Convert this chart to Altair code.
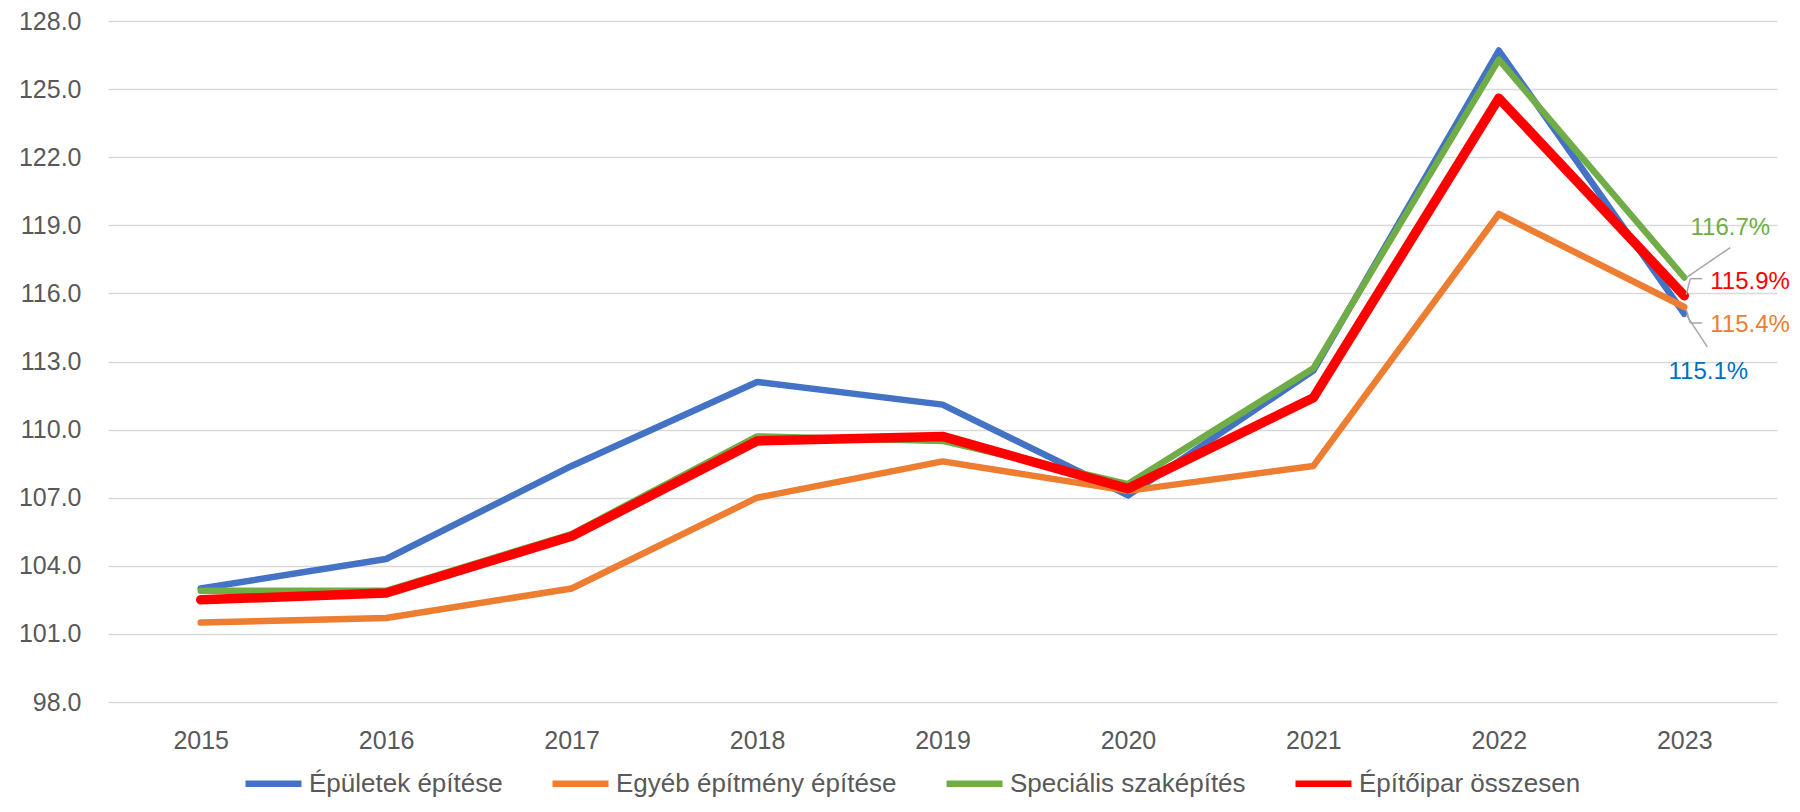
import altair as alt
import pandas as pd

years = [2015, 2016, 2017, 2018, 2019, 2020, 2021, 2022, 2023]
series_names = ["Épületek építése", "Egyéb építmény építése", "Speciális szaképítés", "Építőipar összesen"]
epuletek = [103.0, 104.3, 108.4, 112.1, 111.1, 107.1, 112.6, 126.7, 115.1]
egyeb = [101.5, 101.7, 103.0, 107.0, 108.6, 107.3, 108.4, 119.5, 115.4]
specialis = [102.9, 102.9, 105.4, 109.7, 109.5, 107.6, 112.7, 126.3, 116.7]
osszesen = [102.5, 102.8, 105.3, 109.5, 109.7, 107.4, 111.4, 124.6, 115.9]
y_ticks = [98.0, 101.0, 104.0, 107.0, 110.0, 113.0, 116.0, 119.0, 122.0, 125.0, 128.0]

line_colors = ["#4472C4", "#ED7D31", "#70AD47", "#FF0000"]
label_colors = ["#0070C0", "#ED7D31", "#70AD47", "#FF0000"]
line_widths = [6.5, 6.5, 6.5, 9.5]

# label placement styles (pixel offsets from the 2023 point)
label_styles = [
    dict(dx=24, dy=58, align="center"),
    dict(dx=26, dy=18, align="left"),
    dict(dx=46, dy=-50, align="center"),
    dict(dx=26, dy=-14, align="left"),
]
leader_styles = [
    [(2, 1, 23, 33)],
    [(2, 3, 6, 16), (6, 16, 18, 16)],
    [(2, 0, 46, -30)],
    [(2, -1, 6, -17), (6, -17, 18, -17)],
]

rows = []
for name, vals in zip(series_names, [epuletek, egyeb, specialis, osszesen]):
    for yr, v in zip(years, vals):
        rows.append({"year": yr, "series": name, "value": v})
df = pd.DataFrame(rows)

FONT = "Liberation Sans"
GRAY = "#595959"

x = alt.X("year:Q",
          scale=alt.Scale(domain=[2014.5, 2023.5], nice=False, zero=False),
          axis=alt.Axis(values=years, format="d", title=None, grid=False, domain=False,
                        ticks=False, labelPadding=26, labelFontSize=25, labelColor=GRAY,
                        labelFont=FONT))
y = alt.Y("value:Q",
          scale=alt.Scale(domain=[98, 128], nice=False, zero=False),
          axis=alt.Axis(values=y_ticks, format=".1f", title=None, domain=False, ticks=False,
                        labelPadding=27, gridColor="#D9D9D9", gridWidth=1.5,
                        labelFontSize=25, labelColor=GRAY, labelFont=FONT))
color = alt.Color("series:N",
                  scale=alt.Scale(domain=series_names, range=line_colors),
                  legend=alt.Legend(title=None, orient="none", legendX=134, legendY=731,
                                    direction="horizontal", columns=4, symbolType="stroke",
                                    symbolSize=3136, symbolStrokeWidth=6.5, labelFontSize=26,
                                    labelFont=FONT, labelColor=GRAY, labelLimit=0,
                                    labelOffset=4, columnPadding=36))

base = alt.Chart(df).encode(x=x, y=y)

layers = []
for i, name in enumerate(series_names):
    layers.append(
        base.transform_filter(alt.datum.series == name)
        .mark_line(strokeWidth=line_widths[i], strokeCap="round", strokeJoin="round")
        .encode(color=color)
    )

for i, name in enumerate(series_names):
    last = base.transform_filter((alt.datum.series == name) & (alt.datum.year == years[-1]))
    for (x1, y1, x2, y2) in leader_styles[i]:
        layers.append(
            last.mark_rule(color="#A6A6A6", strokeWidth=1.5, xOffset=x1, yOffset=y1,
                           x2Offset=x2, y2Offset=y2)
            .encode(x2=alt.X2("year:Q"), y2=alt.Y2("value:Q"))
        )
    st = label_styles[i]
    layers.append(
        last.transform_calculate(label="format(datum.value, '.1f') + '%'")
        .mark_text(dx=st["dx"], dy=st["dy"], align=st["align"], baseline="middle",
                   fontSize=24, font=FONT, color=label_colors[i])
        .encode(text="label:N")
    )

chart = alt.layer(*layers).properties(
    width=1669, height=681,
    autosize=alt.AutoSizeParams(type="none"),
    padding={"left": 100, "top": 13, "right": 15, "bottom": 98},
    background="white",
).configure_view(stroke=None)

chart.save("out.html", embed_options={"renderer": "svg", "actions": False})
